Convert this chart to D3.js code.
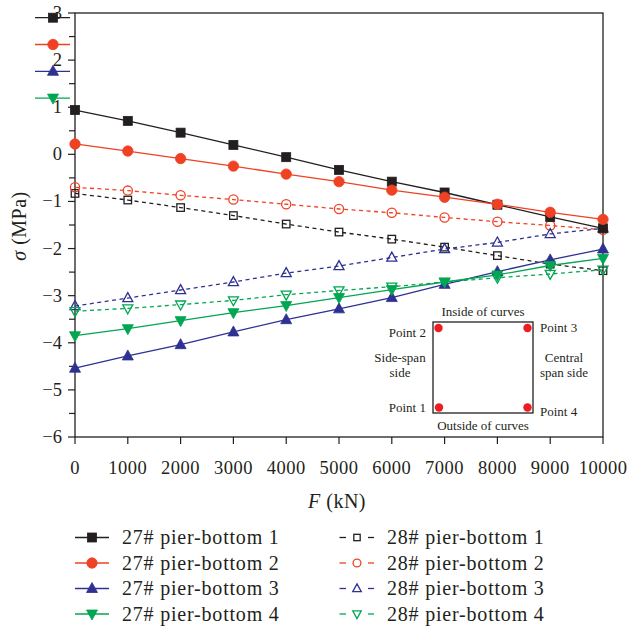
<!DOCTYPE html>
<html><head><meta charset="utf-8">
<script src="https://cdn.jsdelivr.net/npm/d3@7"></script>
<style>body{margin:0;background:#fff}svg{display:block}</style>
</head><body><svg id="c" width="629" height="629" font-family="'Liberation Serif','Times New Roman',serif"></svg>
<script>
const forces = [0,1000,2000,3000,4000,5000,6000,7000,8000,9000,10000];
const p27_1 = [0.94,0.71,0.46,0.20,-0.06,-0.33,-0.58,-0.81,-1.07,-1.33,-1.57];
const p27_2 = [0.22,0.07,-0.09,-0.25,-0.42,-0.58,-0.76,-0.91,-1.06,-1.23,-1.38];
const p27_3 = [-4.54,-4.28,-4.04,-3.77,-3.51,-3.28,-3.04,-2.76,-2.49,-2.24,-2.01];
const p27_4 = [-3.85,-3.70,-3.53,-3.36,-3.21,-3.04,-2.87,-2.71,-2.56,-2.36,-2.21];
const p28_1 = [-0.83,-0.97,-1.13,-1.30,-1.48,-1.65,-1.80,-1.97,-2.15,-2.33,-2.47];
const p28_2 = [-0.70,-0.77,-0.87,-0.96,-1.06,-1.16,-1.24,-1.34,-1.43,-1.51,-1.60];
const p28_3 = [-3.22,-3.05,-2.88,-2.71,-2.52,-2.37,-2.19,-2.01,-1.87,-1.69,-1.57];
const p28_4 = [-3.33,-3.27,-3.19,-3.10,-2.98,-2.89,-2.81,-2.71,-2.62,-2.54,-2.45];
const xTicks = [0,1000,2000,3000,4000,5000,6000,7000,8000,9000,10000];
const yTicks = [3,2,1,0,-1,-2,-3,-4,-5,-6];
const yMinor = [2.5,1.5,0.5,-0.5,-1.5,-2.5,-3.5,-4.5,-5.5];
const seriesNames = ["27# pier-bottom 1","27# pier-bottom 2","27# pier-bottom 3","27# pier-bottom 4",
  "28# pier-bottom 1","28# pier-bottom 2","28# pier-bottom 3","28# pier-bottom 4"];
const insetLabels = ["Inside of curves","Outside of curves","Point 1","Point 2","Point 3","Point 4"];

const BLACK="#231f20", RED="#ef4123", BLUE="#2e3192", GREEN="#00a651";
const series = [
  {name:seriesNames[0], v:p27_1, color:BLACK, shape:"square", fill:true, dash:null},
  {name:seriesNames[1], v:p27_2, color:RED, shape:"circle", fill:true, dash:null},
  {name:seriesNames[2], v:p27_3, color:BLUE, shape:"up", fill:true, dash:null},
  {name:seriesNames[3], v:p27_4, color:GREEN, shape:"down", fill:true, dash:null},
  {name:seriesNames[4], v:p28_1, color:BLACK, shape:"square", fill:false, dash:"4,3.5"},
  {name:seriesNames[5], v:p28_2, color:RED, shape:"circle", fill:false, dash:"4,3.5"},
  {name:seriesNames[6], v:p28_3, color:BLUE, shape:"up", fill:false, dash:"4,3.5"},
  {name:seriesNames[7], v:p28_4, color:GREEN, shape:"down", fill:false, dash:"4,3.5"}
];

const svg = d3.select("#c");
const TXT = "#231f20";
const L=75, R=603, T=13, B=437;
const x = d3.scaleLinear().domain([0,10000]).range([L,R]);
const y = d3.scaleLinear().domain([-6,3]).range([B,T]);

function marker(g, s, cx, cy, scale){
  scale = scale||1;
  let el;
  if(s.shape==="square"){
    const a = (s.fill?9:7.5)*scale;
    el = g.append("rect").attr("x",cx-a/2).attr("y",cy-a/2).attr("width",a).attr("height",a);
  } else if(s.shape==="circle"){
    el = g.append("circle").attr("cx",cx).attr("cy",cy).attr("r",(s.fill?5.2:4.6)*scale);
  } else {
    const h = (s.fill?10:9)*scale, w = (s.fill?11:10)*scale;
    const dir = s.shape==="up"?1:-1;
    el = g.append("path").attr("d",`M${cx},${cy-dir*h*0.6}L${cx+w/2},${cy+dir*h*0.4}L${cx-w/2},${cy+dir*h*0.4}Z`);
  }
  el.attr("fill", s.fill? s.color : "none").attr("stroke", s.color).attr("stroke-width", s.fill?0.8:1.3);
}

// frame
svg.append("rect").attr("x",L).attr("y",T).attr("width",R-L).attr("height",B-T)
  .attr("fill","none").attr("stroke",BLACK).attr("stroke-width",1.3);

// x ticks
const gx = svg.append("g");
xTicks.forEach(t=>{
  gx.append("line").attr("x1",x(t)).attr("x2",x(t)).attr("y1",B).attr("y2",B+7).attr("stroke",BLACK).attr("stroke-width",1.2);
  gx.append("text").attr("x",x(t)).attr("y",B+37).attr("text-anchor","middle").attr("font-size",18.5)
    .attr("letter-spacing",0.5).attr("fill",TXT).text(t);
});
// y ticks
const gy = svg.append("g");
yTicks.forEach(t=>{
  gy.append("line").attr("x1",L-7).attr("x2",L).attr("y1",y(t)).attr("y2",y(t)).attr("stroke",BLACK).attr("stroke-width",1.2);
  gy.append("text").attr("x",L-13).attr("y",y(t)+6).attr("text-anchor","end").attr("font-size",18.5).attr("fill",TXT)
    .text(t<0?"\u2212"+(-t):t);
});
yMinor.forEach(t=>{
  gy.append("line").attr("x1",L-6).attr("x2",L).attr("y1",y(t)).attr("y2",y(t)).attr("stroke",BLACK).attr("stroke-width",1.2);
});

// axis titles
svg.append("text").attr("transform",`translate(26,${(T+B)/2+1}) rotate(-90)`).attr("text-anchor","middle").attr("font-size",20)
  .attr("letter-spacing",0.5).attr("fill",TXT).html('<tspan font-style="italic">σ</tspan> (MPa)');
svg.append("text").attr("x",(L+R)/2-2).attr("y",508).attr("text-anchor","middle").attr("font-size",20)
  .attr("letter-spacing",0.5).attr("fill",TXT).html('<tspan font-style="italic">F</tspan> (kN)');

// lines
const line = d3.line().x((d,i)=>x(forces[i])).y(d=>y(d));
const drawOrder = [4,5,6,7,0,1,2,3];
drawOrder.forEach(k=>{
  const s = series[k];
  const g = svg.append("g");
  g.append("path").attr("d",line(s.v)).attr("fill","none").attr("stroke",s.color).attr("stroke-width",1.3)
    .attr("stroke-dasharray",s.dash);
  s.v.forEach((v,i)=>marker(g,s,x(forces[i]),y(v)));
});

// stray legend remnants at top-left
[0,1,2,3].forEach((k,i)=>{
  const s = series[k];
  const yy = 17.7 + i*26.8;
  svg.append("line").attr("x1",35).attr("x2",70).attr("y1",yy).attr("y2",yy).attr("stroke",s.color).attr("stroke-width",1.3);
  marker(svg,s,53,yy);
});

// inset diagram
const ig = svg.append("g");
ig.append("rect").attr("x",433).attr("y",322).attr("width",100).attr("height",91).attr("fill","none").attr("stroke",BLACK).attr("stroke-width",1.3);
[[438.5,328],[527.5,328],[439,407.5],[527.5,407.5]].forEach(p=>{
  ig.append("circle").attr("cx",p[0]).attr("cy",p[1]).attr("r",4.2).attr("fill","#ed1c24");
});
const fs=13;
function itext(xx,yy,anchor,t){
  ig.append("text").attr("x",xx).attr("y",yy).attr("text-anchor",anchor).attr("font-size",fs).attr("fill",TXT).text(t);
}
itext(483,316,"middle",insetLabels[0]);
itext(483,430,"middle",insetLabels[1]);
itext(426,412,"end",insetLabels[2]);
itext(426,337,"end",insetLabels[3]);
itext(540,332,"start",insetLabels[4]);
itext(540,416,"start",insetLabels[5]);
itext(400,362,"middle","Side-span");
itext(400,377,"middle","side");
itext(564,362,"middle","Central");
itext(564,377,"middle","span side");

// bottom legend
const lg = svg.append("g");
series.forEach((s,k)=>{
  const col = k<4?0:1, row = k%4;
  const yy = 537.5 + row*25.5;
  if(col===0){
    lg.append("line").attr("x1",75).attr("x2",109).attr("y1",yy).attr("y2",yy).attr("stroke",s.color).attr("stroke-width",1.3);
    marker(lg,s,92,yy);
    lg.append("text").attr("x",122).attr("y",yy+6.5).attr("font-size",20).attr("letter-spacing",0.8).attr("fill",TXT).text(s.name);
  } else {
    lg.append("line").attr("x1",339.5).attr("x2",346).attr("y1",yy).attr("y2",yy).attr("stroke",s.color).attr("stroke-width",1.3);
    lg.append("line").attr("x1",368).attr("x2",374).attr("y1",yy).attr("y2",yy).attr("stroke",s.color).attr("stroke-width",1.3);
    marker(lg,s,357,yy,0.85);
    lg.append("text").attr("x",387).attr("y",yy+6.5).attr("font-size",20).attr("letter-spacing",0.8).attr("fill",TXT).text(s.name);
  }
});
</script></body></html>
